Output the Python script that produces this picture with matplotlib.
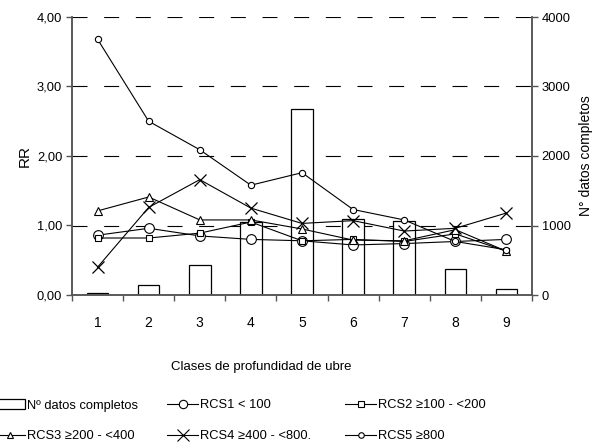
import numpy as np
import matplotlib
matplotlib.use('Agg')
import matplotlib.pyplot as plt
from matplotlib.lines import Line2D
from matplotlib.patches import Rectangle

plt.rcParams['font.family'] = ['Liberation Sans', 'DejaVu Sans']
plt.rcParams['font.size'] = 9.3

clases = [1, 2, 3, 4, 5, 6, 7, 8, 9]
n_datos = [30, 140, 430, 1055, 2670, 1090, 1065, 370, 90]
rcs1 = [0.86, 0.96, 0.85, 0.80, 0.78, 0.72, 0.74, 0.77, 0.80]
rcs2 = [0.82, 0.82, 0.89, 1.05, 0.78, 0.80, 0.77, 0.88, 0.63]
rcs3 = [1.21, 1.41, 1.08, 1.08, 0.95, 0.79, 0.78, 0.94, 0.63]
rcs4 = [0.40, 1.26, 1.66, 1.25, 1.03, 1.07, 0.92, 0.96, 1.18]
rcs5 = [3.68, 2.50, 2.09, 1.58, 1.76, 1.23, 1.08, 0.77, 0.65]

fig = plt.figure(figsize=(6.02, 4.45), dpi=100)
ax2 = fig.add_axes([72/602, 1-295/445, 460/602, 278/445])
ax = ax2.twinx()
ax.set_zorder(2)
ax2.set_zorder(1)
ax.patch.set_visible(False)

gray = '#555555'

# bars (right axis)
ax2.bar(clases, n_datos, width=0.42, facecolor='white', edgecolor='black', linewidth=0.9, zorder=2)
ax2.set_ylim(0, 4000)
ax2.set_yticks([0, 1000, 2000, 3000, 4000])
ax2.yaxis.grid(True, color='black', linestyle=(0, (13.5, 15)), linewidth=0.8, zorder=0)
ax2.set_axisbelow(True)
ax2.yaxis.tick_right()
ax2.yaxis.set_label_position('right')

# lines (left axis)
lw = 0.8
ax.plot(clases, rcs1, color='black', lw=lw, marker='o', ms=7, mfc='white', mec='black', mew=0.8)
ax.plot(clases, rcs2, color='black', lw=lw, marker='s', ms=4.5, mfc='white', mec='black', mew=0.8)
ax.plot(clases, rcs3, color='black', lw=lw, marker='^', ms=6, mfc='white', mec='black', mew=0.8)
ax.plot(clases, rcs4, color='black', lw=lw, marker='x', ms=9, mec='black', mew=0.9)
ax.plot(clases, rcs5, color='black', lw=lw, marker='o', ms=4.5, mfc='white', mec='black', mew=0.8)
ax.set_ylim(0, 4)
ax.set_yticks([0, 1, 2, 3, 4])
ax.set_yticklabels(['0,00', '1,00', '2,00', '3,00', '4,00'])
ax.yaxis.tick_left()
ax.yaxis.set_label_position('left')

ax.set_xlim(0.5, 9.5)
ax2.set_xlim(0.5, 9.5)
ax2.set_xticks(clases)
ax2.set_xticks(np.arange(0.5, 10, 1), minor=True)
ax2.tick_params(axis='x', which='major', length=0, pad=15, labelsize=10)
ax2.tick_params(axis='x', which='minor', length=4, direction='out', color=gray, width=1)
ax.tick_params(axis='x', which='both', length=0, labelbottom=False)

ax.tick_params(axis='y', length=4, direction='out', color=gray, width=1, pad=3)
ax2.tick_params(axis='y', length=4, direction='out', color=gray, width=1, pad=3)

for a in (ax, ax2):
    a.spines['top'].set_visible(False)
    for s in ('left', 'right', 'bottom'):
        a.spines[s].set_color(gray)
        a.spines[s].set_linewidth(1.1)

ax.set_ylabel('RR', fontsize=11, labelpad=4)
ax2.set_ylabel('N° datos completos', fontsize=10, labelpad=6)

fig.text(261/602, 1-367/445, 'Clases de profundidad de ubre', ha='center', va='center', fontsize=9.5)

# legend, three columns
h_bar = Rectangle((0, 0), 1, 1, facecolor='white', edgecolor='black', linewidth=0.9)
def mk(marker, ms):
    return Line2D([], [], color='black', lw=lw, marker=marker, ms=ms, mfc='white', mec='black', mew=0.8)
cols = [
    ([h_bar, mk('^', 5)], ['Nº datos completos', 'RCS3 ≥200 - <400'], -12),
    ([mk('o', 6), mk('x', 8)], ['RCS1 < 100', 'RCS4 ≥400 - <800.'], 161),
    ([mk('s', 4), mk('o', 4)], ['RCS2 ≥100 - <200', 'RCS5 ≥800'], 339),
]
for handles, labels, x0 in cols:
    fig.legend(handles, labels, loc='upper left', bbox_to_anchor=(x0/602, 1-393/445),
               frameon=False, handlelength=2.4, handletextpad=0.15, labelspacing=1.45,
               borderpad=0, fontsize=9.3)

plt.savefig('out.png', dpi=100)
